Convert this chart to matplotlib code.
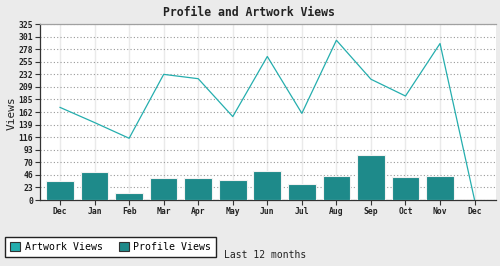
import matplotlib
matplotlib.use("Agg")
import matplotlib.pyplot as plt
from matplotlib.patches import Patch
import numpy as np

# data
months = ["Dec", "Jan", "Feb", "Mar", "Apr", "May", "Jun",
          "Jul", "Aug", "Sep", "Oct", "Nov", "Dec"]
artwork_views = [171, 143, 114, 232, 224, 154, 265, 160, 295, 223, 192, 289, 0]
profile_views = [36, 52, 13, 41, 41, 37, 54, 30, 45, 84, 43, 45, 0]
y_ticks = [0, 23, 46, 70, 93, 116, 139, 162, 185, 209, 232, 255, 278, 301, 325]

line_col = "#25AEAE"
bar_col = "#1E8A8A"
bg = "#EBEBEB"
font = "DejaVu Sans Mono"

fig = plt.figure(figsize=(5, 2.66), dpi=100, facecolor=bg)
ax = fig.add_axes([40 / 500, 1 - 200 / 266, 456 / 500, 176 / 266])
ax.set_facecolor("white")

x = np.arange(len(months))
ax.bar(x, profile_views, width=0.8, color=bar_col, edgecolor="#F2F2F2",
       linewidth=0.8, zorder=3)
ax.plot(x, artwork_views, color=line_col, linewidth=0.9, zorder=4)

ax.set_xlim(-0.58, len(months) - 1 + 0.62)
ax.set_ylim(0, 325)
ax.set_xticks(x)
ax.set_xticklabels(months, family=font, fontsize=5.8, fontweight="bold", color="#222")
ax.set_yticks(np.linspace(0, 325, 15))
ax.set_yticklabels([str(v) for v in y_ticks], family=font, fontsize=5.8,
                   fontweight="bold", color="#222")
ax.tick_params(axis="both", length=3.5, width=0.8, color="#333", pad=1.5)

ax.yaxis.grid(True, color="#999999", linestyle=(0, (1, 2)), linewidth=0.8, zorder=1)
ax.xaxis.grid(True, color="#EAEAEA", linestyle="-", linewidth=1.0, zorder=1)
ax.set_axisbelow(True)

ax.spines["left"].set_color("#333")
ax.spines["bottom"].set_color("#333")
ax.spines["left"].set_linewidth(0.9)
ax.spines["bottom"].set_linewidth(0.9)
ax.spines["top"].set_color("#A0A0A0")
ax.spines["top"].set_linewidth(0.9)
ax.spines["right"].set_visible(False)

fig.text(12 / 500, 1 - 113 / 266, "Views", rotation=90, ha="center", va="center",
         family=font, fontsize=8, color="#222")

fig.text(0.498, 1 - 12 / 266, "Profile and Artwork Views", ha="center", va="center",
         family=font, fontsize=8.3, fontweight="bold", color="#222")

handles = [Patch(facecolor=line_col, edgecolor="#333", linewidth=0.8, label="Artwork Views"),
           Patch(facecolor=bar_col, edgecolor="#333", linewidth=0.8, label="Profile Views")]
leg = fig.legend(handles=handles, loc="lower left", bbox_to_anchor=(5 / 500, 1 - 257 / 266),
                 ncol=2, frameon=True, fancybox=False, edgecolor="#222", framealpha=1,
                 prop={"family": font, "size": 7.1}, handlelength=1.05, handleheight=1.1,
                 handletextpad=0.45, columnspacing=1.6, borderpad=0.5, borderaxespad=0)
leg.get_frame().set_linewidth(1.0)

fig.text(224 / 500, 1 - 255 / 266, "Last 12 months", ha="left", va="center",
         family=font, fontsize=7, color="#222")

fig.savefig("out.png", dpi=100, facecolor=bg)
